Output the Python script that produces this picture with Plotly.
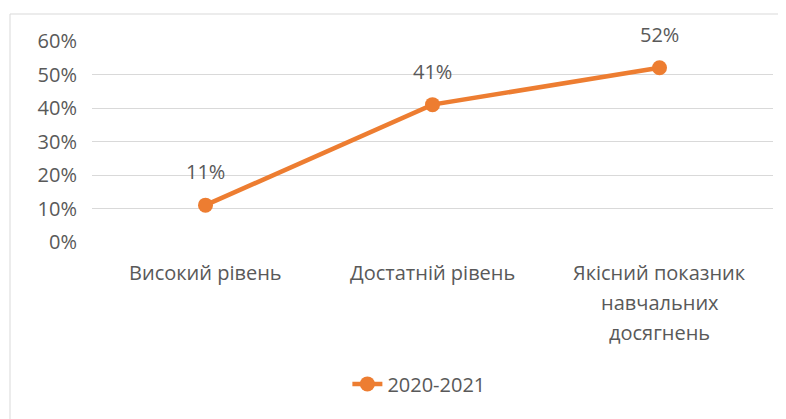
import plotly.graph_objects as go

categories = ["Високий рівень", "Достатній рівень", "Якісний показник\nнавчальних\nдосягнень"]
values = [0.11, 0.41, 0.52]
series_name = "2020-2021"
y_ticks = [0, 0.1, 0.2, 0.3, 0.4, 0.5, 0.6]

ORANGE = "#ED7D31"
GRAY = "#595959"
FONT = "Open Sans"
FS = 20

x_idx = list(range(len(categories)))

fig = go.Figure()
fig.add_trace(go.Scatter(
    x=x_idx, y=values, mode="lines+markers", name=series_name,
    line=dict(color=ORANGE, width=4.5),
    marker=dict(color=ORANGE, size=15),
))

annotations = []
for xi, v in zip(x_idx, values):
    annotations.append(dict(x=xi, y=v, xref="x", yref="y", text=f"{round(v*100)}%",
                            showarrow=False, yanchor="bottom", yshift=18,
                            font=dict(family=FONT, size=FS, color=GRAY)))
for xi, cat in zip(x_idx, categories):
    for j, line in enumerate(cat.split("\n")):
        annotations.append(dict(x=xi, y=0, xref="x", yref="paper", text=line,
                                showarrow=False, yanchor="top", yshift=-15 - 30 * j,
                                font=dict(family=FONT, size=FS, color=GRAY)))

fig.update_layout(
    width=786, height=419,
    margin=dict(l=84, r=21, t=33, b=185),
    paper_bgcolor="white", plot_bgcolor="white",
    font=dict(family=FONT, size=FS, color=GRAY),
    showlegend=True,
    legend=dict(orientation="h", x=0.48, xanchor="center", y=-0.706, yanchor="middle",
                font=dict(family=FONT, size=FS, color=GRAY), itemwidth=30),
    xaxis=dict(range=[-0.5, 2.5], showgrid=False, showticklabels=False, zeroline=False,
               showline=False, tickvals=x_idx, fixedrange=True),
    yaxis=dict(range=[0, 0.6], tickvals=y_ticks, tickformat=".0%", showgrid=True,
               gridcolor="#D9D9D9", gridwidth=1, zeroline=False, showline=False,
               ticklabelstandoff=14, tickfont=dict(family=FONT, size=FS, color=GRAY)),
    annotations=annotations,
    shapes=[dict(type="rect", xref="paper", yref="paper", x0=(10 - 92) / 681, x1=1.2,
                 y0=-1.5, y1=1 + 27 / 201, line=dict(color="#D9D9D9", width=1),
                 layer="below")],
)

fig.write_html("out.html")
